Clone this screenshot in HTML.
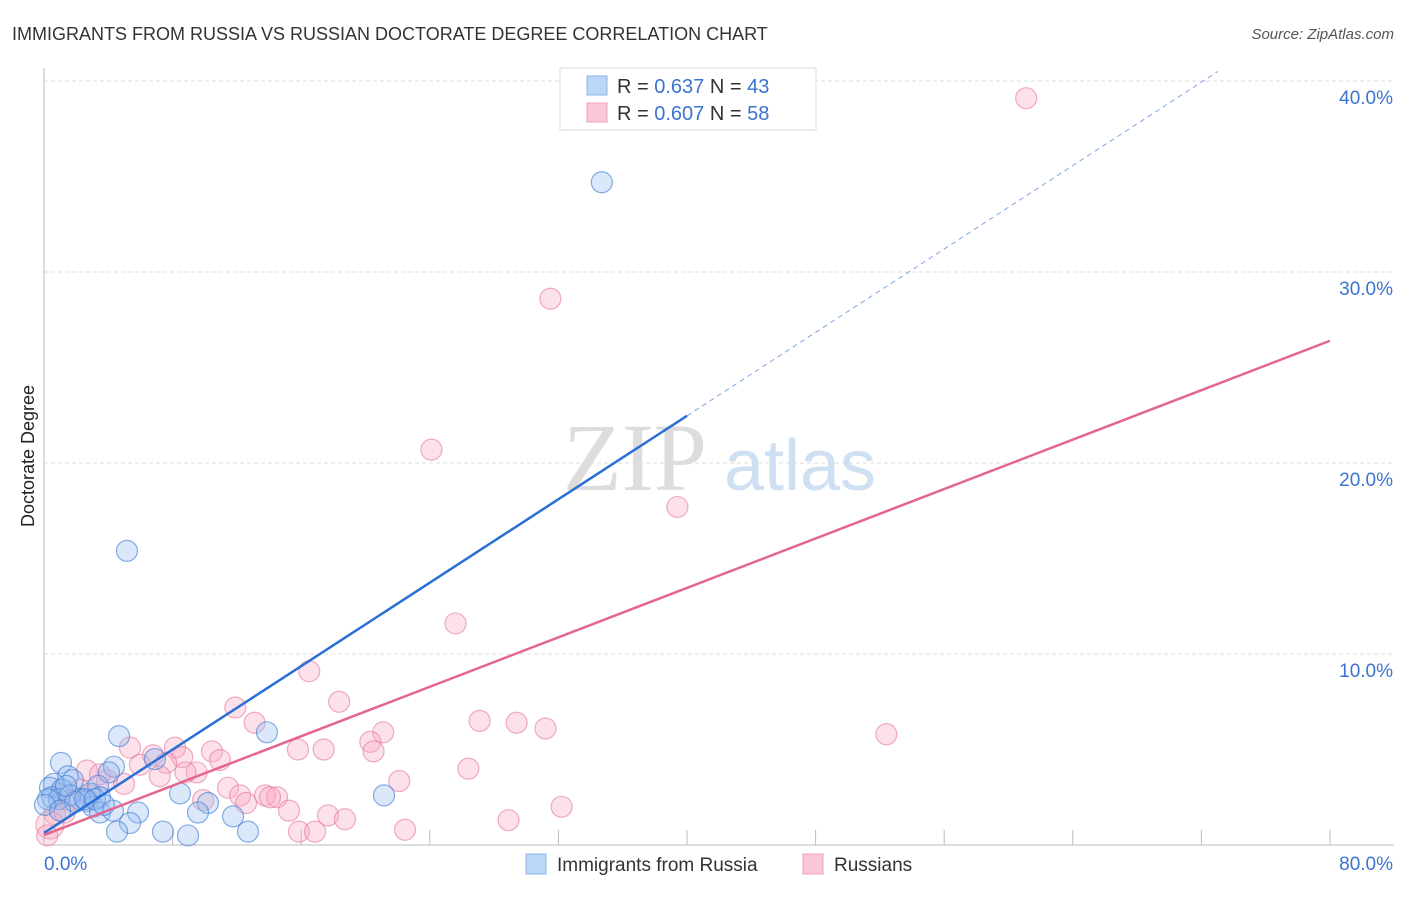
<!DOCTYPE html>
<html><head><meta charset="utf-8"><style>
body{margin:0;background:#fff;font-family:"Liberation Sans",sans-serif}
</style></head><body>
<svg width="1406" height="892" xmlns="http://www.w3.org/2000/svg" font-family="Liberation Sans, sans-serif">
<text x="12" y="40" font-size="18" fill="#333">IMMIGRANTS FROM RUSSIA VS RUSSIAN DOCTORATE DEGREE CORRELATION CHART</text>
<text x="1394" y="39" font-size="15" fill="#555" font-style="italic" text-anchor="end">Source: ZipAtlas.com</text>
<g id="grid"></g>
<text x="635" y="490" font-size="96" fill="#ddd" font-family="Liberation Serif, serif" text-anchor="middle">ZIP</text>
<text x="800" y="490" font-size="72" fill="#cfe0f3" text-anchor="middle">atlas</text>
<g id="marks"></g>
<text x="34" y="456" font-size="18" fill="#222" text-anchor="middle" transform="rotate(-90 34 456)">Doctorate Degree</text>
<g>
<rect x="560" y="68" width="256" height="62" fill="#fff" stroke="#ddd"/>
<rect x="587" y="76" width="20" height="19" fill="#bcd6f7" stroke="#8ab4ea"/>
<rect x="587" y="103" width="20" height="19" fill="#fac7d6" stroke="#f0a0b8"/>
<text x="617" y="93" font-size="20" fill="#333">R = <tspan fill="#3a73d0">0.637</tspan>   N = <tspan fill="#3a73d0">43</tspan></text>
<text x="617" y="120" font-size="20" fill="#333">R = <tspan fill="#3a73d0">0.607</tspan>   N = <tspan fill="#3a73d0">58</tspan></text>
</g>
<g>
<rect x="526" y="854" width="20" height="20" fill="#bcd6f7" stroke="#8ab4ea"/>
<text x="557" y="871" font-size="19" fill="#333">Immigrants from Russia</text>
<rect x="803" y="854" width="20" height="20" fill="#fac7d6" stroke="#f0a0b8"/>
<text x="834" y="871" font-size="19" fill="#333">Russians</text>
</g>
</svg>
<script>
const blueX=[34.7,5.16,1.06,4.67,13.87,6.9,4.35,4.04,1.49,1.8,3.36,0.62,0.37,1.12,0.5,0.93,2.86,3.48,2.24,2.67,3.05,3.48,4.29,5.85,8.46,10.2,9.58,11.76,5.35,4.54,7.4,8.96,12.69,21.15,0.25,0.06,1.62,1.93,2.55,3.17,3.73,1.0,1.37];
const blueY=[34.7,15.4,4.3,5.7,5.9,4.5,4.1,3.8,3.6,3.4,3.1,3.2,3.0,2.9,2.5,2.4,2.7,2.5,2.4,2.3,2.0,1.7,1.8,1.7,2.7,2.2,1.7,1.5,1.15,0.7,0.7,0.5,0.7,2.6,2.4,2.1,2.6,2.25,2.4,2.4,2.1,1.8,3.1];
const pinkX=[61.1,31.5,24.1,39.4,25.6,16.5,52.4,18.36,11.9,13.1,27.1,29.4,31.2,21.1,20.3,20.5,15.8,17.4,5.35,8.15,6.78,10.45,8.6,7.6,10.95,5.97,26.4,2.67,9.5,8.8,7.2,3.92,22.1,4.98,11.45,12.2,13.75,14.5,9.9,12.57,14.06,32.2,15.24,17.67,18.72,28.9,22.46,15.86,16.86,1.62,1.0,2.24,3.48,0.68,0.37,0.2,2.86,1.3];
const pinkY=[39.1,28.6,20.7,17.7,11.6,9.1,5.8,7.5,7.2,6.4,6.5,6.4,6.1,5.9,5.4,4.9,5.0,5.0,5.1,5.1,4.7,4.9,4.6,4.3,4.45,4.2,4.0,3.9,3.8,3.8,3.6,3.4,3.35,3.2,3.0,2.6,2.6,2.5,2.35,2.2,2.5,2.0,1.8,1.55,1.35,1.3,0.8,0.7,0.7,2.35,2.7,2.9,3.7,1.6,1.05,0.5,2.6,1.7];
const blueLine=[0.63,0.546];
const pinkLine=[0.52,0.3235];
const yTicks=[10,20,30,40];
const xTicks=[0,8,16,24,32,40,48,56,64,72,80];
const NS='http://www.w3.org/2000/svg';
const sx=v=>44+v*1286/80, sy=v=>845-v*19.1;
function el(tag,attrs,parent){const e=document.createElementNS(NS,tag);for(const k in attrs)e.setAttribute(k,attrs[k]);parent.appendChild(e);return e;}
const grid=document.getElementById('grid'), marks=document.getElementById('marks');
yTicks.forEach(t=>{
  const l=el('line',{x1:44,x2:1394,y1:sy(t),y2:sy(t),stroke:'#ddd','stroke-dasharray':'4 3'},grid);
  
  
  const tx=el('text',{x:1393,y:sy(t)+23,'font-size':19,fill:'#3a73d0','text-anchor':'end'},grid);
  tx.textContent=t.toFixed(1)+'%';
  
  
});
xTicks.forEach(t=>{
  if(t===0)return;
  const l=el('line',{x1:sx(t),x2:sx(t),y1:830,y2:845,stroke:'#bbb'},grid);
  
  
});
let a=el('line',{x1:44,x2:44,y1:68,y2:845,stroke:'#bbb'},grid);


a=el('line',{x1:44,x2:1394,y1:845,y2:845,stroke:'#bbb'},grid);


let t0=el('text',{x:44,y:870,'font-size':19,fill:'#3a73d0'},grid);t0.textContent='0.0%';


let t1=el('text',{x:1393,y:870,'font-size':19,fill:'#3a73d0','text-anchor':'end'},grid);t1.textContent='80.0%';


pinkX.forEach((x,i)=>{
  const c=el('circle',{cx:sx(x),cy:sy(pinkY[i]),r:i===54?14:10.5,fill:'rgba(248,170,195,0.35)',stroke:'rgba(230,120,155,0.6)','stroke-width':1.2},marks);
  
  
});
blueX.forEach((x,i)=>{
  const c=el('circle',{cx:sx(x),cy:sy(blueY[i]),r:10.5,fill:'rgba(150,190,240,0.35)',stroke:'rgba(60,120,210,0.6)','stroke-width':1.2},marks);
  
  
});
let ln=el('line',{x1:sx(0),y1:sy(blueLine[0]),x2:sx(40),y2:sy(blueLine[0]+blueLine[1]*40),stroke:'#2a6fd6','stroke-width':2.5},marks);


const xEnd=(40.5-blueLine[0])/blueLine[1];
ln=el('line',{x1:sx(40),y1:sy(blueLine[0]+blueLine[1]*40),x2:sx(xEnd),y2:sy(40.5),stroke:'#7fa6e0','stroke-width':1,'stroke-dasharray':'5 4'},marks);


ln=el('line',{x1:sx(0),y1:sy(pinkLine[0]),x2:sx(80),y2:sy(pinkLine[0]+pinkLine[1]*80),stroke:'#e4668f','stroke-width':2.5},marks);


</script>
</body></html>
